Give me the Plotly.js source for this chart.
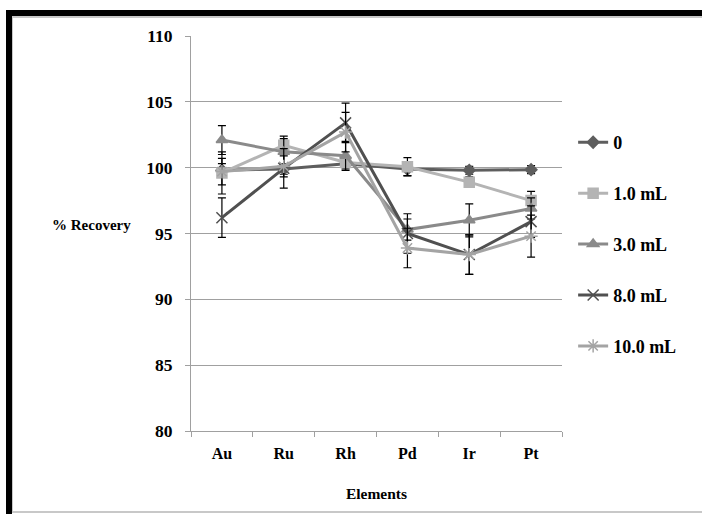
<!DOCTYPE html>
<html>
<head>
<meta charset="utf-8">
<script src="https://cdn.plot.ly/plotly-3.0.1.min.js"></script>
<style>
html,body{margin:0;padding:0;background:#fff;width:702px;height:514px;overflow:hidden;}
#outer{position:absolute;left:6px;top:10px;width:696px;height:504px;border-top:6px solid #000;border-left:6px solid #000;box-sizing:border-box;}
#inner{position:absolute;left:12px;top:16px;width:690px;height:497px;border-top:2px solid #c8c8c8;border-left:1px solid #c8c8c8;border-bottom:2px solid #c8c8c8;box-sizing:border-box;}
#chart{position:absolute;left:0;top:0;width:702px;height:514px;}
</style>
</head>
<body>
<div id="outer"></div>
<div id="inner"></div>
<div id="chart"></div>
<script>
const elements = ["Au", "Ru", "Rh", "Pd", "Ir", "Pt"];
const seriesNames = ["0", "1.0 mL", "3.0 mL", "8.0 mL", "10.0 mL"];
const v0   = [99.8, 99.9, 100.3, 99.9, 99.8, 99.85];
const v1   = [99.6, 101.7, 100.4, 100.07, 98.9, 97.5];
const v3   = [102.1, 101.2, 100.9, 95.3, 96.0, 96.9];
const v8   = [96.2, 99.95, 103.4, 95.0, 93.4, 95.9];
const v10  = [99.7, 100.1, 102.7, 93.9, 93.4, 94.8];
const e0   = [0.5, 0.4, 0.4, 0.5, 0.3, 0.3];
const e1   = [1.6, 0.7, 0.4, 0.7, 0.4, 0.7];
const e3   = [1.1, 1.0, 1.1, 0.8, 1.25, 0.8];
const e8   = [1.5, 1.5, 1.5, 1.5, 1.5, 1.2];
const e10  = [1.0, 0.8, 1.5, 1.5, 1.5, 1.6];
const yTicks = [80, 85, 90, 95, 100, 105, 110];

const values = [v0, v1, v3, v8, v10];
const errors = [e0, e1, e3, e8, e10];
const colors = ["#5e5e5e", "#b4b4b4", "#8a8a8a", "#505050", "#a4a4a4"];
const symbols = ["diamond", "square", "triangle-up", "x-thin-open", "asterisk-open"];
const msizes = [9, 10, 10, 11, 11];

const fam = "'Liberation Serif', 'Times New Roman', Times, serif";
const f = s => ({family: fam, size: s, color: "#000"});

const traces = seriesNames.map((n, i) => ({
  type: "scatter",
  mode: "lines+markers",
  name: "<b>" + n + "</b>",
  x: elements,
  y: values[i],
  legendgroup: "g" + i,
  line: {color: colors[i], width: 3},
  marker: {symbol: symbols[i], size: msizes[i], color: colors[i], line: {color: colors[i], width: 1.5}},
  error_y: {type: "data", array: errors[i], visible: true, color: "#000", thickness: 1.2, width: 4}
}));

const layout = {
  width: 702, height: 514,
  margin: {l: 191, r: 140, t: 36, b: 83},
  paper_bgcolor: "rgba(0,0,0,0)",
  plot_bgcolor: "rgba(0,0,0,0)",
  font: f(16),
  showlegend: true,
  legend: {
    x: 1.03, xanchor: "left", y: 0.777, yanchor: "top",
    traceorder: "grouped", tracegroupgap: 24.5,
    font: f(18), bgcolor: "rgba(0,0,0,0)", itemwidth: 30
  },
  xaxis: {
    type: "category",
    range: [-0.5, 5.5],
    tickvals: elements,
    ticktext: elements.map(e => "<b>" + e + "</b>"),
    tickson: "boundaries",
    ticks: "outside", ticklen: 5, tickcolor: "#a0a0a0",
    showline: true, linecolor: "#a0a0a0", linewidth: 1,
    showgrid: false, zeroline: false,
    ticklabelstandoff: 8,
    tickfont: f(16),
    title: {text: "<b>Elements</b>", font: f(15.5), standoff: 26}
  },
  yaxis: {
    range: [80, 110],
    tickvals: yTicks,
    ticktext: yTicks.map(t => "<b>" + t + "</b>"),
    ticks: "outside", ticklen: 5, tickcolor: "#a0a0a0",
    showline: true, linecolor: "#a0a0a0", linewidth: 1,
    showgrid: true, gridcolor: "#a0a0a0", gridwidth: 1,
    zeroline: false,
    ticklabelstandoff: 9,
    tickfont: f(17.5)
  },
  annotations: [{
    text: "<b>% Recovery</b>", xref: "paper", yref: "paper",
    x: -0.155, xanchor: "right", y: 0.522, yanchor: "middle",
    showarrow: false, font: f(15)
  }]
};

Plotly.newPlot("chart", traces, layout, {displayModeBar: false, staticPlot: true});
</script>
</body>
</html>
